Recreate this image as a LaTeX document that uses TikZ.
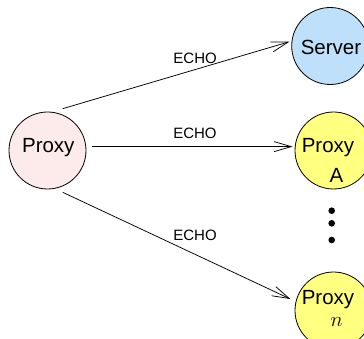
\documentclass[tikz,border=0pt]{standalone}
\usepackage{fontspec}
\setmainfont{Liberation Sans}
\usetikzlibrary{arrows.meta,calc}
\definecolor{pinkfill}{RGB}{253,234,234}
\definecolor{bluefill}{RGB}{190,224,250}
\definecolor{yellowfill}{RGB}{255,255,128}
\begin{document}
\begin{tikzpicture}[x=1pt,y=-1pt,
  circ/.style={circle, draw=black, line width=0.8pt, minimum size=77pt, inner sep=0pt},
  lbl/.style={font=\fontsize{20.5}{24}\selectfont, inner sep=0pt, anchor=base},
  echo/.style={font=\fontsize{15}{18}\selectfont, inner sep=0pt},
  conn/.style={line width=0.75pt, -{Straight Barb[length=17pt,width=10pt]}},
  dotnode/.style={circle, fill=black, inner sep=0pt, minimum size=6.6pt}]
\useasboundingbox (0,0) rectangle (364,339);
\node[circ, fill=pinkfill, outer sep=6pt] (lp) at (47.5,150.5) {};
\node[circ, fill=bluefill, outer sep=2.5pt] (srv) at (330.2,46) {};
\node[circ, fill=yellowfill, outer sep=2.5pt] (pa) at (333.5,150.5) {};
\node[circ, fill=yellowfill, outer sep=2.5pt] (pn) at (333.5,310.5) {};
\node[lbl] (lpt) at (48.3,153) {Proxy};
\node[lbl] (srvt) at (331,54.5) {Server};
\node[lbl] (pat) at (328,153) {Proxy};
\node[lbl] (pab) at (336.5,183) {A};
\node[lbl] (pnt) at (328,304) {Proxy};
\node[lbl] (pnb) at (336.7,326) {$n$};
\draw[conn] (lp.70) -- node[echo, pos=0.584, yshift=11pt] (e1) {ECHO} (srv.174);
\draw[conn] (lp.5) -- node[echo, pos=0.514, yshift=13pt] (e2) {ECHO} (lp.5 -| pa.west);
\draw[conn, shorten >=3.7pt] (lp.-70) -- node[echo, pos=0.573, yshift=19pt] (e3) {ECHO} (pn.166);
\node[dotnode] (d1) at (331.7,210.7) {};
\node[dotnode] (d2) at (331.7,223.3) {};
\node[dotnode] (d3) at (331.7,240) {};
\end{tikzpicture}
\end{document}
